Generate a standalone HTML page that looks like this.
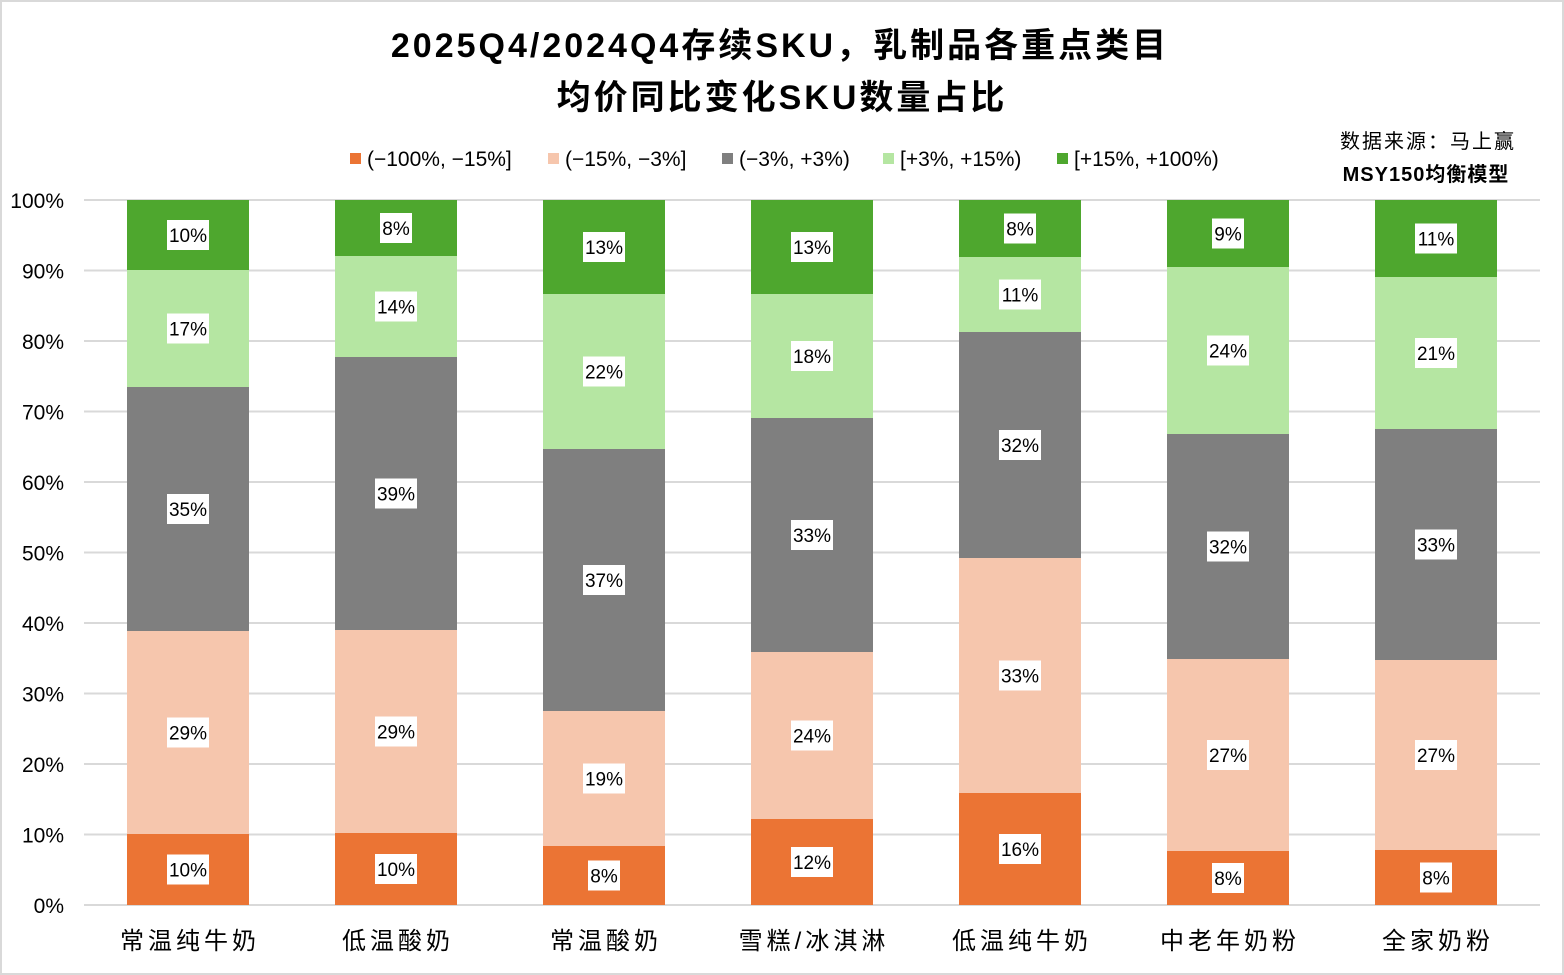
<!DOCTYPE html>
<html><head><meta charset="utf-8"><style>
html,body{margin:0;padding:0;background:#fff}
svg{display:block}
text{font-family:"Liberation Sans","Noto Sans CJK SC",sans-serif}
</style></head><body>
<svg id="s" width="1564" height="975" xmlns="http://www.w3.org/2000/svg">
<rect x="1" y="1" width="1562" height="973" fill="#fff" stroke="#d9d9d9" stroke-width="2"/>
<text x="780" y="57" text-anchor="middle" font-size="34" font-weight="bold" fill="#000" letter-spacing="3">2025Q4/2024Q4存续SKU，乳制品各重点类目</text>
<text x="782" y="109" text-anchor="middle" font-size="34" font-weight="bold" fill="#000" letter-spacing="3">均价同比变化SKU数量占比</text>
<text x="1428" y="148" text-anchor="middle" font-size="20" fill="#000" letter-spacing="2">数据来源：马上赢</text>
<text x="1426" y="181" text-anchor="middle" font-size="20" font-weight="bold" fill="#000" letter-spacing="1">MSY150均衡模型</text>
<g font-size="21" fill="#000">
<rect x="350" y="153" width="11" height="11" fill="#EB7434"/><text x="367" y="166">(−100%, −15%]</text>
<rect x="548" y="153" width="11" height="11" fill="#F6C6AD"/><text x="565" y="166">(−15%, −3%]</text>
<rect x="722" y="153" width="11" height="11" fill="#7F7F7F"/><text x="739" y="166">(−3%, +3%)</text>
<rect x="883" y="153" width="11" height="11" fill="#B5E6A2"/><text x="900" y="166">[+3%, +15%)</text>
<rect x="1057" y="153" width="11" height="11" fill="#4EA72E"/><text x="1074" y="166">[+15%, +100%)</text>
</g>
<g id="grid"></g>
<g id="bars"></g>
</svg>
<script>
var s=document.getElementById('grid'),b=document.getElementById('bars'),NS='http://www.w3.org/2000/svg';
function el(p,t,a,txt){var e=document.createElementNS(NS,t);for(var k in a)e.setAttribute(k,a[k]);if(txt!=null)e.textContent=txt;p.appendChild(e);return e;}
for(var i=0;i<=10;i++){var y=905-70.5*i;el(s,'line',{x1:84,x2:1540,y1:y,y2:y,stroke:'#d9d9d9','stroke-width':2});
el(s,'text',{x:64,y:y+8,'text-anchor':'end','font-size':21,fill:'#000'},(i*10)+'%');}
var cols=['#EB7434','#F6C6AD','#7F7F7F','#B5E6A2','#4EA72E'];
var data=[
[188,'常温纯牛奶',[905,834,631,387,270,200],['10%','29%','35%','17%','10%']],
[396,'低温酸奶',[905,833,630,357,256,200],['10%','29%','39%','14%','8%']],
[604,'常温酸奶',[905,846,711,449,294,200],['8%','19%','37%','22%','13%']],
[812,'雪糕/冰淇淋',[905,819,652,418,294,200],['12%','24%','33%','18%','13%']],
[1020,'低温纯牛奶',[905,793,558,332,257,200],['16%','33%','32%','11%','8%']],
[1228,'中老年奶粉',[905,851,659,434,267,200],['8%','27%','32%','24%','9%']],
[1436,'全家奶粉',[905,850,660,429,277,200],['8%','27%','33%','21%','11%']]];
data.forEach(function(d){var c=d[0];
for(var j=0;j<5;j++){var y0=d[2][j],y1=d[2][j+1];el(b,'rect',{x:c-61,y:y1,width:122,height:y0-y1,fill:cols[j]});}
for(var j=0;j<5;j++){var m=(d[2][j]+d[2][j+1])/2,t=d[3][j],w=t.length>2?42:32;
el(b,'rect',{x:c-w/2,y:m-15,width:w,height:30,fill:'#fff'});
el(b,'text',{x:c,y:m+7,'text-anchor':'middle','font-size':19,fill:'#000'},t);}
el(b,'text',{x:c+2,y:949,'text-anchor':'middle','font-size':24,fill:'#000','letter-spacing':'4'},d[1]);
});
</script>
</body></html>
